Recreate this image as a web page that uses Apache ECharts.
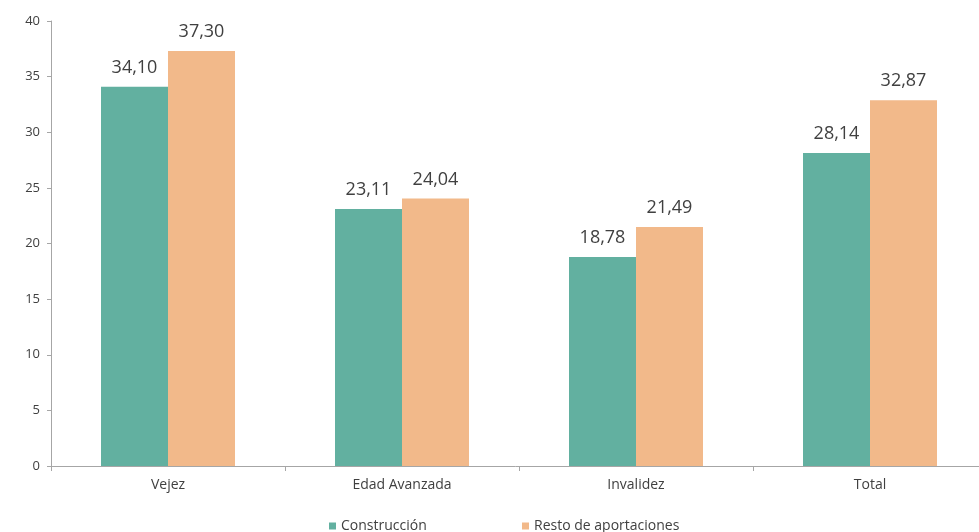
<!DOCTYPE html>
<html>
<head>
<meta charset="utf-8">
<style>
  html, body { margin: 0; padding: 0; background: #fff; }
  #chart { width: 979px; height: 532px; }
</style>
<script src="https://cdn.jsdelivr.net/npm/echarts@6/dist/echarts.min.js"></script>
</head>
<body>
<div id="chart"></div>
<script>
const categories = ['Vejez', 'Edad Avanzada', 'Invalidez', 'Total'];
const construccion = [34.10, 23.11, 18.78, 28.14];
const restoAportaciones = [37.30, 24.04, 21.49, 32.87];
const yTicks = { min: 0, max: 40, interval: 5 };

const fmt = v => v.toFixed(2).replace('.', ',');
const font = 'Open Sans, Lato, sans-serif';

const chart = echarts.init(document.getElementById('chart'));
chart.setOption({
  backgroundColor: '#fff',
  animation: false,
  textStyle: { fontFamily: font },
  // plot area runs a little past the right edge of the canvas
  grid: { left: 51, top: 21, width: 936, height: 445, containLabel: false, outerBoundsMode: 'none' },
  legend: [
    {
      data: ['Construcción'], left: 324, top: 514,
      icon: 'rect', itemWidth: 7, itemHeight: 7, itemGap: 4,
      textStyle: { fontSize: 14, color: '#404040', fontFamily: font }
    },
    {
      data: ['Resto de aportaciones'], left: 517, top: 514,
      icon: 'rect', itemWidth: 7, itemHeight: 7,
      textStyle: { fontSize: 14, color: '#404040', fontFamily: font }
    }
  ],
  xAxis: {
    type: 'category',
    data: categories,
    axisLine: { lineStyle: { color: '#a6a6a6' } },
    axisTick: { show: true, alignWithLabel: false, length: 5, lineStyle: { color: '#a6a6a6' } },
    axisLabel: { color: '#404040', fontSize: 14, margin: 12, fontFamily: font }
  },
  yAxis: {
    type: 'value',
    min: yTicks.min, max: yTicks.max, interval: yTicks.interval,
    axisLine: { show: true, lineStyle: { color: '#a6a6a6' } },
    axisTick: { show: true, length: 4, lineStyle: { color: '#a6a6a6' } },
    splitLine: { show: false },
    axisLabel: { color: '#404040', fontSize: 13, margin: 11, fontFamily: font }
  },
  series: [
    {
      name: 'Construcción', type: 'bar', data: construccion,
      barWidth: 67, barGap: '0%',
      itemStyle: { color: '#62b0a0' },
      label: { show: true, position: 'top', distance: 10, fontSize: 18, color: '#404040',
               fontFamily: font, formatter: p => fmt(p.value) }
    },
    {
      name: 'Resto de aportaciones', type: 'bar', data: restoAportaciones,
      barWidth: 67, barGap: '0%',
      itemStyle: { color: '#f2b98a' },
      label: { show: true, position: 'top', distance: 10, fontSize: 18, color: '#404040',
               fontFamily: font, formatter: p => fmt(p.value) }
    }
  ]
});
</script>
</body>
</html>
